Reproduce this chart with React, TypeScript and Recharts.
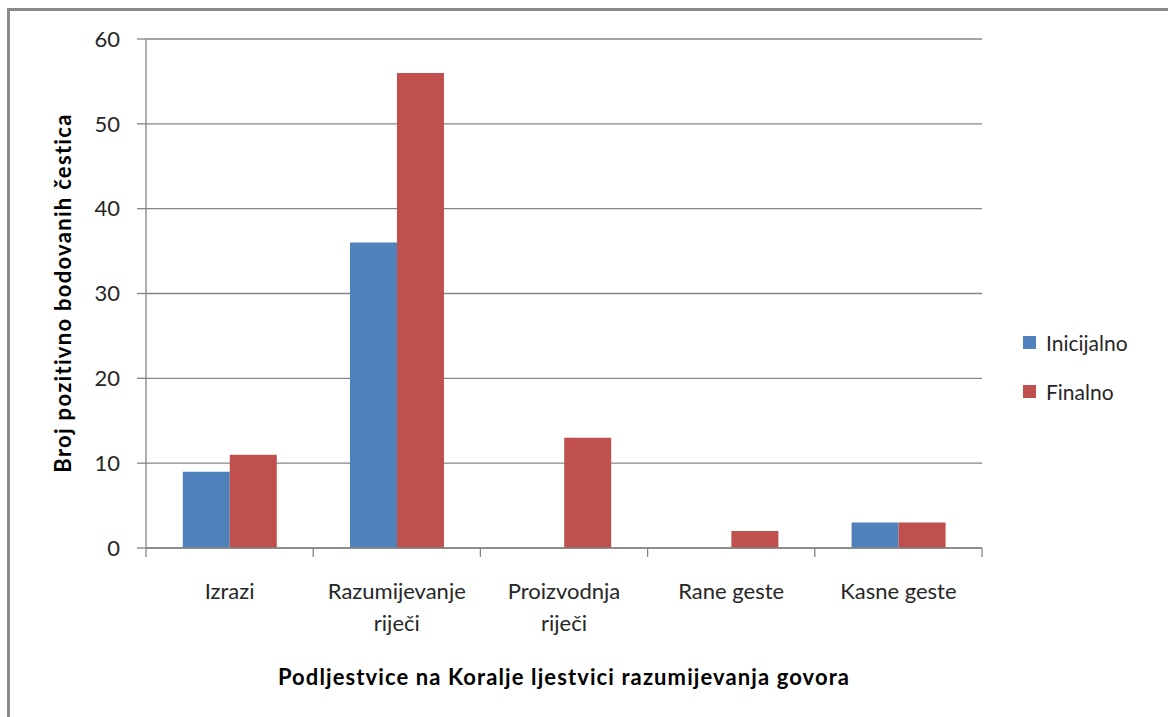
import { BarChart, Bar, XAxis, YAxis, CartesianGrid } from 'recharts';

const categories = ['Izrazi', 'Razumijevanje riječi', 'Proizvodnja riječi', 'Rane geste', 'Kasne geste'];
const inicijalno = [9, 36, 0, 0, 3];
const finalno = [11, 56, 13, 2, 3];
const yTicks = [0, 10, 20, 30, 40, 50, 60];

const data = categories.map((name, i) => ({ name, Inicijalno: inicijalno[i], Finalno: finalno[i] }));

const FONT = 'Lato, "Open Sans", sans-serif';
const AXIS = '#868686';
const BLUE = '#4F81BD';
const RED = '#C0504D';

// long labels go on two lines, like the original
function splitLabel(s: string): string[] {
  if (s.length <= 14) return [s];
  const i = s.lastIndexOf(' ');
  return [s.slice(0, i), s.slice(i + 1)];
}

function CategoryTick(props: any) {
  const { x, y, payload, index } = props;
  const half = payload?.offset && payload.offset > 10 ? payload.offset : 83.6;
  const axisY = y - 8;
  const lines = splitLabel(String(payload.value));
  return (
    <g>
      <line x1={x - half} y1={axisY} x2={x - half} y2={axisY + 9} stroke={AXIS} strokeWidth={1.3} />
      {index === categories.length - 1 && (
        <line x1={x + half} y1={axisY} x2={x + half} y2={axisY + 9} stroke={AXIS} strokeWidth={1.3} />
      )}
      <text x={x} y={y + 43} textAnchor="middle" fontSize={22} fontFamily={FONT} fill="#262626">
        {lines.map((l, i) => (
          <tspan key={i} x={x} dy={i === 0 ? 0 : 32}>{l}</tspan>
        ))}
      </text>
    </g>
  );
}

const legendItems = [
  { label: 'Inicijalno', color: BLUE },
  { label: 'Finalno', color: RED },
];

export default function App() {
  return (
    <div style={{ position: 'absolute', left: 0, top: 0, width: 1168, height: 717, background: '#fff' }}>
      <div
        style={{
          position: 'absolute', left: 7, top: 8, width: 1161, height: 709,
          borderTop: '3px solid #8a8a8a', borderLeft: '3px solid #8a8a8a', boxSizing: 'border-box',
        }}
      />
      <BarChart
        width={1168}
        height={717}
        data={data}
        margin={{ top: 39, right: 186, left: 86, bottom: 109 }}
        barCategoryGap="22%"
        barGap={0}
        style={{ position: 'absolute', left: 0, top: 0 }}
      >
        <CartesianGrid vertical={false} stroke={AXIS} strokeWidth={1.3} />
        <XAxis
          dataKey="name"
          height={60}
          interval={0}
          tickLine={false}
          axisLine={{ stroke: AXIS, strokeWidth: 1.3 }}
          tick={<CategoryTick />}
        />
        <YAxis
          width={60}
          domain={[0, 60]}
          ticks={yTicks}
          interval={0}
          tickSize={9}
          tickMargin={17}
          tickLine={{ stroke: AXIS, strokeWidth: 1.3 }}
          axisLine={{ stroke: AXIS, strokeWidth: 1.3 }}
          tick={{ fontSize: 22, fontFamily: FONT, fill: '#262626' }}
        />
        <Bar dataKey="Inicijalno" fill={BLUE} isAnimationActive={false} />
        <Bar dataKey="Finalno" fill={RED} isAnimationActive={false} />
        <text
          x={62}
          y={293}
          transform="rotate(-90 62 293)"
          textAnchor="middle"
          dominantBaseline="central"
          fontSize={22}
          fontWeight="bold"
          letterSpacing={1.3}
          fontFamily={FONT}
          fill="#000"
        >
          Broj pozitivno bodovanih čestica
        </text>
        <text
          x={564}
          y={676}
          textAnchor="middle"
          dominantBaseline="central"
          fontSize={22}
          fontWeight="bold"
          letterSpacing={1.1}
          fontFamily={FONT}
          fill="#000"
        >
          Podljestvice na Koralje ljestvici razumijevanja govora
        </text>
      </BarChart>
      <div
        style={{
          position: 'absolute', left: 1023, top: 318, fontFamily: FONT, fontSize: 21, color: '#262626',
        }}
      >
        {legendItems.map((it) => (
          <div key={it.label} style={{ display: 'flex', alignItems: 'center', height: 49 }}>
            <span style={{ width: 13, height: 13, background: it.color, marginRight: 10, display: 'inline-block' }} />
            {it.label}
          </div>
        ))}
      </div>
    </div>
  );
}
